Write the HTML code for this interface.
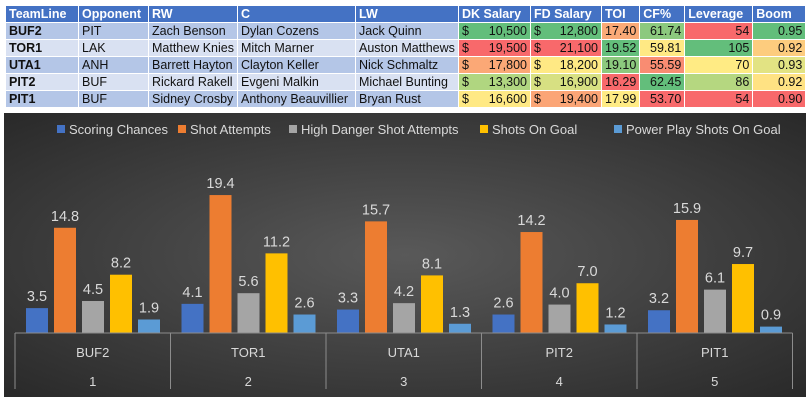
<!DOCTYPE html>
<html><head><meta charset="utf-8">
<style>
body{margin:0;width:809px;height:400px;background:#fff;font-family:"Liberation Sans",sans-serif;position:relative;overflow:hidden}
table{position:absolute;left:5px;top:5px;border-collapse:collapse;font-family:"Liberation Sans",sans-serif;font-size:12.5px;table-layout:fixed}
td,th{height:16px;padding:0 3px;border:1px solid #fff;white-space:nowrap;overflow:hidden;text-align:left;color:#111;line-height:15px}
th{background:#4472C4;color:#fff;font-weight:bold}
tr.a td{background:#B4C6E7}tr.b td{background:#D9E1F2}
td.n{text-align:right}
td.d span{float:left}
#chart{position:absolute;left:4px;top:113px;width:802px;height:284px}
</style></head><body>
<table>
<colgroup><col style="width:73px"><col style="width:70px"><col style="width:89px"><col style="width:118px"><col style="width:103px"><col style="width:72px"><col style="width:71px"><col style="width:38px"><col style="width:45px"><col style="width:68px"><col style="width:53px"></colgroup>
<tr><th>TeamLine</th><th>Opponent</th><th>RW</th><th>C</th><th>LW</th><th>DK Salary</th><th>FD Salary</th><th>TOI</th><th>CF%</th><th>Leverage</th><th>Boom</th></tr>
<tr class="a"><td><b>BUF2</b></td><td>PIT</td><td>Zach Benson</td><td>Dylan Cozens</td><td>Jack Quinn</td><td class="n d" style="background:#63BE7B"><span>$</span>10,500</td><td class="n d" style="background:#63BE7B"><span>$</span>12,800</td><td class="n" style="background:#FBAA77">17.40</td><td class="n" style="background:#8CC97E">61.74</td><td class="n" style="background:#F8696B">54</td><td class="n" style="background:#63BE7B">0.95</td></tr>
<tr class="b"><td><b>TOR1</b></td><td>LAK</td><td>Matthew Knies</td><td>Mitch Marner</td><td>Auston Matthews</td><td class="n d" style="background:#F8696B"><span>$</span>19,500</td><td class="n d" style="background:#F8696B"><span>$</span>21,100</td><td class="n" style="background:#63BE7B">19.52</td><td class="n" style="background:#FFE984">59.81</td><td class="n" style="background:#63BE7B">105</td><td class="n" style="background:#FDCC7E">0.92</td></tr>
<tr class="a"><td><b>UTA1</b></td><td>ANH</td><td>Barrett Hayton</td><td>Clayton Keller</td><td>Nick Schmaltz</td><td class="n d" style="background:#FBA876"><span>$</span>17,800</td><td class="n d" style="background:#FFE984"><span>$</span>18,200</td><td class="n" style="background:#8CC97E">19.10</td><td class="n" style="background:#F98C72">55.59</td><td class="n" style="background:#FFEB84">70</td><td class="n" style="background:#E2E383">0.93</td></tr>
<tr class="b"><td><b>PIT2</b></td><td>BUF</td><td>Rickard Rakell</td><td>Evgeni Malkin</td><td>Michael Bunting</td><td class="n d" style="background:#B0D680"><span>$</span>13,300</td><td class="n d" style="background:#D7E082"><span>$</span>16,900</td><td class="n" style="background:#F8696B">16.29</td><td class="n" style="background:#63BE7B">62.45</td><td class="n" style="background:#B5D780">86</td><td class="n" style="background:#FFE283">0.92</td></tr>
<tr class="a"><td><b>PIT1</b></td><td>BUF</td><td>Sidney Crosby</td><td>Anthony Beauvillier</td><td>Bryan Rust</td><td class="n d" style="background:#FFE984"><span>$</span>16,600</td><td class="n d" style="background:#FBA576"><span>$</span>19,400</td><td class="n" style="background:#FFEB84">17.99</td><td class="n" style="background:#F8696B">53.70</td><td class="n" style="background:#F8696B">54</td><td class="n" style="background:#F8696B">0.90</td></tr>
</table>
<svg id="chart" width="802" height="284" viewBox="4 113 802 284">
<defs>
<radialGradient id="bg" cx="50%" cy="50%" r="75%"><stop offset="0" stop-color="#595959"/><stop offset="1" stop-color="#262626"/></radialGradient>
</defs>
<rect x="4" y="113" width="802" height="284" fill="url(#bg)"/>
<g id="legend"></g>
<g id="plot"></g>
</svg>
<script>
const categories=["BUF2","TOR1","UTA1","PIT2","PIT1"];
const groupNums=["1","2","3","4","5"];
const seriesNames=["Scoring Chances","Shot Attempts","High Danger Shot Attempts","Shots On Goal","Power Play Shots On Goal"];
const scoringChances=[3.5,4.1,3.3,2.6,3.2];
const shotAttempts=[14.8,19.4,15.7,14.2,15.9];
const highDanger=[4.5,5.6,4.2,4.0,6.1];
const shotsOnGoal=[8.2,11.2,8.1,7.0,9.7];
const ppShotsOnGoal=[1.9,2.6,1.3,1.2,0.9];
const series=[scoringChances,shotAttempts,highDanger,shotsOnGoal,ppShotsOnGoal];
const colors=["#4472C4","#ED7D31","#A5A5A5","#FFC000","#5B9BD5"];
const NS="http://www.w3.org/2000/svg";
const x0=15,x1=792.5,base=333,scale=7.11;
const gw=(x1-x0)/categories.length;
const y=v=>base-v*scale;
const bx=(c,s)=>x0+c*gw+11+s*28;
function mk(t,a,p){const e=document.createElementNS(NS,t);for(const k in a)e.setAttribute(k,a[k]);p.appendChild(e);return e;}
const plot=document.getElementById('plot'),leg=document.getElementById('legend');
const legX=[57,178,289,480,614];
seriesNames.forEach((n,i)=>{
  const r=mk('rect',{x:legX[i],y:125,width:8,height:8,fill:colors[i]},leg);
  
  
  const t=mk('text',{x:legX[i]+12,y:134,fill:'#d9d9d9','font-size':'13'},leg);
  t.textContent=n;
  
  
});
series.forEach((vals,s)=>{
  vals.forEach((v,c)=>{
    const r=mk('rect',{x:bx(c,s),y:y(v),width:22,height:base-y(v),fill:colors[s]},plot);
    
    
    const t=mk('text',{x:bx(c,s)+11,y:y(v)-7,fill:'#d9d9d9','font-size':'14.5','text-anchor':'middle'},plot);
    t.textContent=v.toFixed(1);
    
    
  });
});
mk('line',{x1:x0,x2:x1,y1:base,y2:base,stroke:'#8c8c8c'},plot);
for(let i=0;i<=categories.length;i++){
  const l=mk('line',{x1:x0+i*gw,x2:x0+i*gw,y1:base,y2:389,stroke:'#8c8c8c'},plot);
  
  
}
categories.forEach((c,i)=>{
  const t=mk('text',{x:x0+(i+.5)*gw,y:357,fill:'#d9d9d9','font-size':'13','text-anchor':'middle'},plot);
  t.textContent=c;
  
  
  const t2=mk('text',{x:x0+(i+.5)*gw,y:386,fill:'#d9d9d9','font-size':'13','text-anchor':'middle'},plot);
  t2.textContent=groupNums[i];
  
  
});
</script>
</body></html>
